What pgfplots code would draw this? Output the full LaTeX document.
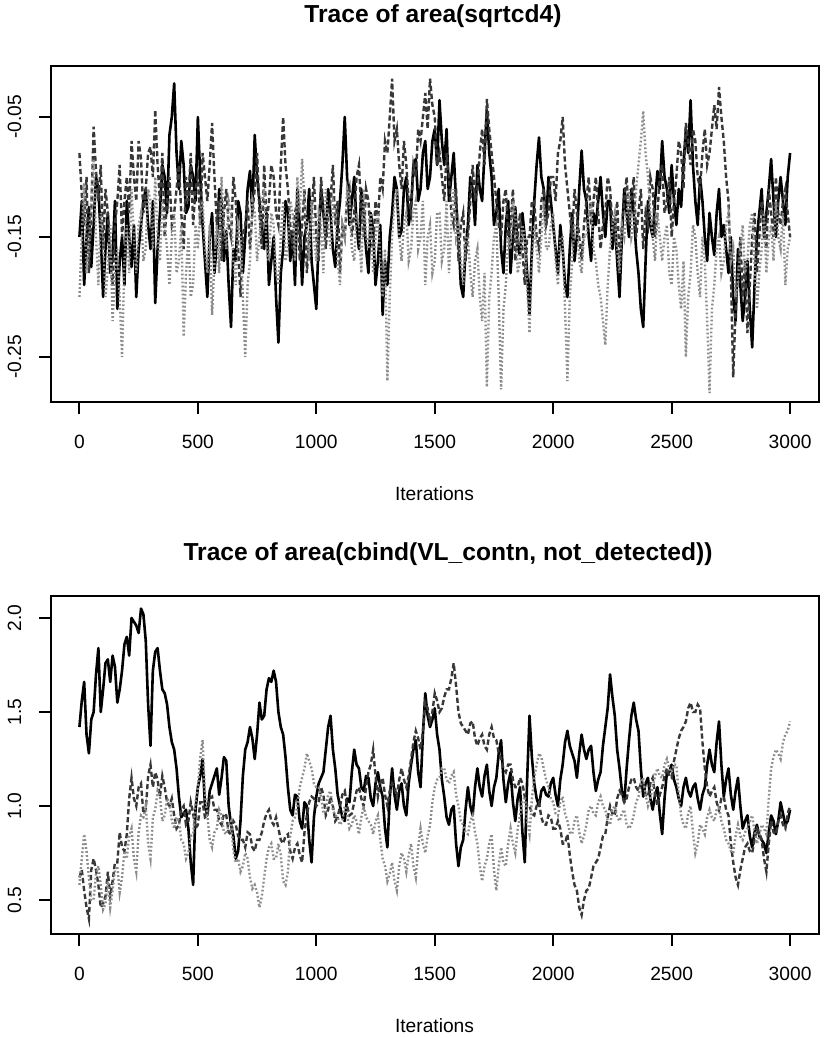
\documentclass[border=0pt]{standalone}
\usepackage{fontspec}
\setmainfont{Liberation Sans}
\usepackage{pgfplots}
\usepackage{pgfplotstable}
\pgfplotsset{compat=1.18}

\pgfplotstableread{
it a b c
0 -0.150 -0.080 -0.200
10 -0.120 -0.115 -0.150
20 -0.190 -0.140 -0.105
30 -0.150 -0.100 -0.180
40 -0.125 -0.180 -0.160
50 -0.175 -0.130 -0.120
60 -0.140 -0.058 -0.085
70 -0.100 -0.095 -0.150
80 -0.110 -0.120 -0.190
90 -0.150 -0.090 -0.130
100 -0.200 -0.160 -0.150
110 -0.160 -0.110 -0.200
120 -0.130 -0.130 -0.175
130 -0.180 -0.170 -0.140
140 -0.165 -0.190 -0.220
150 -0.120 -0.140 -0.180
160 -0.210 -0.120 -0.160
170 -0.170 -0.090 -0.200
180 -0.150 -0.150 -0.250
190 -0.190 -0.120 -0.170
200 -0.120 -0.100 -0.140
210 -0.150 -0.130 -0.180
220 -0.175 -0.070 -0.110
230 -0.140 -0.100 -0.150
240 -0.200 -0.120 -0.180
250 -0.160 -0.070 -0.140
260 -0.140 -0.085 -0.130
270 -0.120 -0.130 -0.170
280 -0.110 -0.110 -0.160
290 -0.140 -0.080 -0.110
300 -0.160 -0.075 -0.120
310 -0.120 -0.100 -0.160
320 -0.205 -0.044 -0.100
330 -0.160 -0.090 -0.150
340 -0.130 -0.120 -0.170
350 -0.090 -0.080 -0.120
360 -0.100 -0.150 -0.140
370 -0.130 -0.120 -0.160
380 -0.065 -0.100 -0.190
390 -0.050 -0.140 -0.150
400 -0.022 -0.130 -0.130
410 -0.080 -0.110 -0.180
420 -0.110 -0.090 -0.170
430 -0.070 -0.130 -0.140
440 -0.090 -0.160 -0.233
450 -0.130 -0.100 -0.180
460 -0.125 -0.120 -0.150
470 -0.090 -0.080 -0.200
480 -0.100 -0.140 -0.190
490 -0.120 -0.110 -0.140
500 -0.050 -0.100 -0.160
510 -0.100 -0.140 -0.130
520 -0.140 -0.080 -0.120
530 -0.170 -0.100 -0.160
540 -0.200 -0.120 -0.180
550 -0.150 -0.090 -0.140
560 -0.130 -0.055 -0.215
570 -0.180 -0.100 -0.170
580 -0.155 -0.140 -0.140
590 -0.110 -0.120 -0.180
600 -0.120 -0.170 -0.100
610 -0.170 -0.130 -0.140
620 -0.145 -0.110 -0.160
630 -0.190 -0.140 -0.120
640 -0.225 -0.150 -0.130
650 -0.160 -0.100 -0.170
660 -0.170 -0.120 -0.190
670 -0.120 -0.160 -0.140
680 -0.130 -0.200 -0.150
690 -0.180 -0.150 -0.200
700 -0.150 -0.140 -0.250
710 -0.110 -0.120 -0.190
720 -0.095 -0.160 -0.170
730 -0.130 -0.130 -0.120
740 -0.065 -0.110 -0.130
750 -0.100 -0.080 -0.170
760 -0.120 -0.130 -0.150
770 -0.140 -0.160 -0.120
780 -0.160 -0.090 -0.110
790 -0.130 -0.140 -0.160
800 -0.190 -0.120 -0.170
810 -0.170 -0.090 -0.130
820 -0.150 -0.100 -0.140
830 -0.200 -0.130 -0.180
840 -0.238 -0.140 -0.190
850 -0.180 -0.090 -0.150
860 -0.160 -0.050 -0.120
870 -0.120 -0.090 -0.170
880 -0.130 -0.110 -0.160
890 -0.170 -0.140 -0.120
900 -0.145 -0.160 -0.130
910 -0.190 -0.130 -0.170
920 -0.110 -0.120 -0.100
930 -0.140 -0.170 -0.130
940 -0.190 -0.140 -0.085
950 -0.150 -0.110 -0.120
960 -0.140 -0.180 -0.140
970 -0.110 -0.150 -0.170
980 -0.170 -0.130 -0.120
990 -0.190 -0.100 -0.150
1000 -0.210 -0.150 -0.170
1010 -0.150 -0.170 -0.130
1020 -0.110 -0.100 -0.140
1030 -0.130 -0.130 -0.180
1040 -0.150 -0.160 -0.110
1050 -0.110 -0.130 -0.140
1060 -0.130 -0.120 -0.160
1070 -0.160 -0.090 -0.120
1080 -0.175 -0.140 -0.130
1090 -0.140 -0.120 -0.170
1100 -0.120 -0.180 -0.190
1110 -0.090 -0.140 -0.140
1120 -0.050 -0.150 -0.150
1130 -0.100 -0.120 -0.110
1140 -0.140 -0.110 -0.120
1150 -0.120 -0.150 -0.160
1160 -0.100 -0.130 -0.170
1170 -0.140 -0.100 -0.130
1180 -0.160 -0.090 -0.140
1190 -0.110 -0.130 -0.180
1200 -0.130 -0.150 -0.110
1210 -0.160 -0.110 -0.150
1220 -0.180 -0.120 -0.160
1230 -0.130 -0.150 -0.130
1240 -0.145 -0.160 -0.180
1250 -0.190 -0.120 -0.150
1260 -0.170 -0.140 -0.130
1270 -0.140 -0.100 -0.170
1280 -0.215 -0.110 -0.200
1290 -0.170 -0.070 -0.160
1300 -0.190 -0.080 -0.270
1310 -0.150 -0.050 -0.200
1320 -0.130 -0.018 -0.150
1330 -0.100 -0.070 -0.120
1340 -0.110 -0.060 -0.110
1350 -0.150 -0.090 -0.150
1360 -0.145 -0.110 -0.170
1370 -0.110 -0.070 -0.140
1380 -0.100 -0.090 -0.130
1390 -0.140 -0.120 -0.170
1400 -0.125 -0.130 -0.160
1410 -0.090 -0.090 -0.130
1420 -0.085 -0.100 -0.120
1430 -0.120 -0.060 -0.160
1440 -0.110 -0.070 -0.150
1450 -0.080 -0.050 -0.120
1460 -0.070 -0.030 -0.190
1470 -0.110 -0.060 -0.150
1480 -0.100 -0.018 -0.140
1490 -0.070 -0.040 -0.180
1500 -0.060 -0.050 -0.170
1510 -0.090 -0.090 -0.130
1520 -0.036 -0.080 -0.130
1530 -0.070 -0.100 -0.170
1540 -0.090 -0.120 -0.160
1550 -0.060 -0.080 -0.120
1560 -0.120 -0.100 -0.180
1570 -0.100 -0.130 -0.140
1580 -0.080 -0.140 -0.110
1590 -0.120 -0.110 -0.150
1600 -0.150 -0.170 -0.140
1610 -0.190 -0.140 -0.170
1620 -0.200 -0.130 -0.190
1630 -0.160 -0.170 -0.150
1640 -0.140 -0.150 -0.150
1650 -0.100 -0.120 -0.180
1660 -0.110 -0.090 -0.200
1670 -0.140 -0.120 -0.170
1680 -0.090 -0.110 -0.160
1690 -0.110 -0.080 -0.200
1700 -0.120 -0.060 -0.220
1710 -0.080 -0.090 -0.180
1720 -0.044 -0.035 -0.275
1730 -0.080 -0.060 -0.200
1740 -0.100 -0.080 -0.180
1750 -0.140 -0.100 -0.150
1760 -0.130 -0.120 -0.140
1770 -0.110 -0.140 -0.200
1780 -0.160 -0.150 -0.277
1790 -0.180 -0.120 -0.210
1800 -0.140 -0.110 -0.190
1810 -0.120 -0.150 -0.150
1820 -0.180 -0.140 -0.160
1830 -0.150 -0.110 -0.120
1840 -0.125 -0.170 -0.130
1850 -0.160 -0.150 -0.180
1860 -0.165 -0.130 -0.170
1870 -0.130 -0.160 -0.140
1880 -0.150 -0.190 -0.150
1890 -0.180 -0.150 -0.190
1900 -0.214 -0.150 -0.230
1910 -0.160 -0.120 -0.170
1920 -0.120 -0.120 -0.140
1930 -0.090 -0.150 -0.160
1940 -0.067 -0.160 -0.180
1950 -0.100 -0.120 -0.150
1960 -0.110 -0.110 -0.120
1970 -0.140 -0.140 -0.160
1980 -0.100 -0.130 -0.160
1990 -0.120 -0.100 -0.140
2000 -0.140 -0.100 -0.130
2010 -0.160 -0.120 -0.170
2020 -0.180 -0.080 -0.190
2030 -0.140 -0.070 -0.150
2040 -0.160 -0.050 -0.150
2050 -0.190 -0.090 -0.210
2060 -0.200 -0.110 -0.270
2070 -0.160 -0.130 -0.200
2080 -0.130 -0.150 -0.170
2090 -0.170 -0.110 -0.140
2100 -0.150 -0.130 -0.140
2110 -0.110 -0.150 -0.170
2120 -0.078 -0.170 -0.180
2130 -0.110 -0.140 -0.150
2140 -0.120 -0.120 -0.150
2150 -0.150 -0.100 -0.130
2160 -0.170 -0.140 -0.120
2170 -0.130 -0.120 -0.160
2180 -0.140 -0.100 -0.170
2190 -0.120 -0.130 -0.190
2200 -0.100 -0.160 -0.200
2210 -0.130 -0.140 -0.220
2220 -0.150 -0.130 -0.240
2230 -0.120 -0.100 -0.190
2240 -0.120 -0.110 -0.160
2250 -0.160 -0.140 -0.140
2260 -0.135 -0.150 -0.130
2270 -0.170 -0.120 -0.160
2280 -0.200 -0.170 -0.180
2290 -0.150 -0.140 -0.140
2300 -0.110 -0.120 -0.150
2310 -0.130 -0.100 -0.130
2320 -0.150 -0.140 -0.110
2330 -0.110 -0.120 -0.150
2340 -0.130 -0.100 -0.140
2350 -0.160 -0.150 -0.110
2360 -0.180 -0.130 -0.090
2370 -0.210 -0.110 -0.070
2380 -0.225 -0.160 -0.045
2390 -0.170 -0.130 -0.080
2400 -0.120 -0.140 -0.100
2410 -0.140 -0.100 -0.130
2420 -0.150 -0.110 -0.150
2430 -0.120 -0.150 -0.170
2440 -0.095 -0.130 -0.130
2450 -0.110 -0.100 -0.150
2460 -0.070 -0.090 -0.170
2470 -0.100 -0.130 -0.150
2480 -0.110 -0.120 -0.140
2490 -0.130 -0.100 -0.180
2500 -0.090 -0.150 -0.190
2510 -0.120 -0.120 -0.150
2520 -0.140 -0.100 -0.160
2530 -0.110 -0.070 -0.190
2540 -0.125 -0.080 -0.210
2550 -0.090 -0.110 -0.170
2560 -0.060 -0.055 -0.250
2570 -0.080 -0.070 -0.200
2580 -0.036 -0.090 -0.180
2590 -0.090 -0.060 -0.140
2600 -0.120 -0.070 -0.150
2610 -0.140 -0.100 -0.180
2620 -0.100 -0.110 -0.200
2630 -0.120 -0.080 -0.150
2640 -0.150 -0.060 -0.170
2650 -0.170 -0.090 -0.220
2660 -0.130 -0.080 -0.280
2670 -0.150 -0.060 -0.210
2680 -0.165 -0.040 -0.190
2690 -0.130 -0.060 -0.160
2700 -0.110 -0.025 -0.150
2710 -0.150 -0.050 -0.180
2720 -0.140 -0.070 -0.170
2730 -0.160 -0.100 -0.140
2740 -0.180 -0.120 -0.130
2750 -0.150 -0.180 -0.170
2760 -0.200 -0.267 -0.160
2770 -0.220 -0.210 -0.200
2780 -0.160 -0.180 -0.190
2790 -0.190 -0.150 -0.160
2800 -0.220 -0.200 -0.140
2810 -0.200 -0.170 -0.180
2820 -0.170 -0.230 -0.170
2830 -0.210 -0.190 -0.140
2840 -0.242 -0.150 -0.130
2850 -0.190 -0.130 -0.170
2860 -0.150 -0.180 -0.210
2870 -0.130 -0.150 -0.180
2880 -0.110 -0.120 -0.160
2890 -0.150 -0.140 -0.130
2900 -0.130 -0.160 -0.180
2910 -0.110 -0.110 -0.150
2920 -0.085 -0.130 -0.140
2930 -0.120 -0.150 -0.170
2940 -0.150 -0.100 -0.120
2950 -0.120 -0.130 -0.150
2960 -0.100 -0.140 -0.160
2970 -0.120 -0.120 -0.130
2980 -0.140 -0.110 -0.190
2990 -0.100 -0.130 -0.160
3000 -0.080 -0.150 -0.150
}\toptab

\pgfplotstableread{
it a b c
0 1.42 0.62 0.58
10 1.56 0.66 0.72
20 1.66 0.55 0.85
30 1.38 0.46 0.76
40 1.28 0.40 0.62
50 1.46 0.66 0.50
60 1.50 0.72 0.50
70 1.70 0.66 0.64
80 1.84 0.58 0.68
90 1.50 0.46 0.58
100 1.62 0.48 0.45
110 1.76 0.52 0.48
120 1.78 0.65 0.60
130 1.66 0.52 0.46
140 1.80 0.60 0.55
150 1.74 0.70 0.66
160 1.55 0.70 0.68
170 1.62 0.86 0.54
180 1.72 0.78 0.62
190 1.86 0.76 0.76
200 1.90 0.85 0.72
210 1.80 1.04 0.84
220 2.00 1.15 0.88
230 1.98 1.04 0.72
240 1.96 1.00 0.65
250 1.92 1.10 0.86
260 2.05 1.12 0.95
270 2.02 0.96 0.94
280 1.88 0.98 1.00
290 1.54 1.16 0.80
300 1.32 1.22 0.72
310 1.72 1.10 0.94
320 1.82 1.18 0.98
330 1.84 1.14 1.08
340 1.72 1.05 1.05
350 1.62 1.16 0.92
360 1.60 1.10 0.95
370 1.54 1.02 1.04
380 1.42 1.00 1.02
390 1.34 1.04 0.92
400 1.30 0.95 0.88
410 1.20 0.88 0.94
420 1.05 0.90 0.92
430 0.94 0.98 0.82
440 0.96 1.00 0.80
450 0.98 0.90 0.72
460 0.88 0.92 0.75
470 0.70 1.02 0.84
480 0.58 0.96 0.85
490 0.98 0.88 1.02
500 1.10 0.90 1.10
510 1.16 1.02 1.26
520 1.25 1.02 1.35
530 1.00 0.94 1.06
540 0.95 0.95 0.95
550 1.08 1.04 0.82
560 1.12 1.05 0.78
570 1.16 0.98 0.86
580 1.20 0.98 0.88
590 1.06 0.92 0.98
600 1.15 0.90 0.95
610 1.26 0.96 0.86
620 1.24 0.95 0.85
630 1.00 0.86 0.90
640 0.90 0.85 0.92
650 0.84 0.92 0.76
660 0.72 0.90 0.70
670 0.76 0.84 0.72
680 0.92 0.82 0.65
690 1.16 0.82 0.68
700 1.30 0.78 0.75
710 1.34 0.86 0.72
720 1.42 0.85 0.62
730 1.36 0.78 0.56
740 1.25 0.76 0.58
750 1.38 0.82 0.54
760 1.55 0.82 0.46
770 1.46 0.86 0.52
780 1.48 0.92 0.62
790 1.62 0.96 0.72
800 1.68 0.98 0.78
810 1.66 0.92 0.80
820 1.72 0.90 0.72
830 1.66 0.94 0.72
840 1.50 0.88 0.80
850 1.42 0.82 0.74
860 1.38 0.80 0.60
870 1.26 0.84 0.58
880 1.10 0.85 0.65
890 0.98 0.76 0.84
900 0.95 0.72 0.92
910 1.06 0.78 0.94
920 1.05 0.80 1.00
930 0.92 0.74 1.10
940 0.88 0.70 1.15
950 1.02 0.86 1.20
960 1.00 0.95 1.28
970 0.82 1.02 1.24
980 0.70 1.05 1.20
990 0.94 1.04 1.12
1000 1.05 1.00 1.10
1010 1.12 1.02 1.10
1020 1.15 1.10 1.05
1030 1.18 1.06 0.96
1040 1.30 0.95 0.98
1050 1.42 0.98 1.06
1060 1.48 1.05 1.08
1070 1.30 1.00 0.98
1080 1.20 0.92 0.95
1090 1.06 0.94 0.94
1100 1.00 1.00 0.90
1110 0.94 1.06 0.92
1120 0.92 1.08 1.00
1130 1.04 1.00 0.96
1140 1.02 0.95 0.88
1150 1.18 0.96 0.90
1160 1.30 1.02 0.95
1170 1.22 1.08 0.92
1180 1.20 1.10 0.85
1190 1.10 1.04 0.94
1200 1.08 1.00 1.00
1210 1.16 1.10 0.94
1220 1.15 1.18 0.92
1230 1.04 1.22 0.90
1240 1.00 1.30 0.85
1250 1.12 1.16 0.92
1260 1.18 1.05 0.95
1270 1.10 1.12 0.82
1280 1.05 1.15 0.72
1290 0.88 1.06 0.68
1300 0.78 1.00 0.60
1310 1.04 1.08 0.64
1320 1.20 1.12 0.70
1330 1.06 1.10 0.60
1340 0.98 1.05 0.55
1350 1.08 1.14 0.68
1360 1.12 1.20 0.75
1370 1.00 1.14 0.72
1380 0.95 1.10 0.65
1390 1.12 1.16 0.74
1400 1.22 1.25 0.80
1410 1.30 1.34 0.68
1420 1.35 1.40 0.62
1430 1.18 1.36 0.78
1440 1.10 1.30 0.88
1450 1.38 1.40 0.80
1460 1.60 1.55 0.75
1470 1.48 1.52 0.84
1480 1.42 1.45 0.90
1490 1.46 1.50 1.02
1500 1.52 1.60 1.10
1510 1.38 1.56 1.14
1520 1.30 1.50 1.15
1530 1.14 1.52 1.20
1540 1.05 1.58 1.20
1550 0.94 1.62 1.14
1560 0.90 1.62 1.12
1570 0.98 1.68 1.16
1580 1.00 1.76 1.18
1590 0.80 1.64 1.06
1600 0.68 1.50 1.00
1610 0.78 1.44 0.92
1620 0.82 1.42 0.90
1630 0.98 1.40 0.86
1640 1.10 1.38 0.85
1650 1.00 1.44 0.92
1660 0.95 1.45 0.95
1670 1.10 1.36 0.86
1680 1.20 1.32 0.80
1690 1.10 1.36 0.68
1700 1.05 1.38 0.60
1710 1.16 1.32 0.68
1720 1.22 1.30 0.72
1730 1.08 1.38 0.80
1740 1.00 1.42 0.85
1750 1.10 1.36 0.66
1760 1.15 1.35 0.55
1770 1.28 1.28 0.68
1780 1.35 1.25 0.78
1790 1.14 1.20 0.70
1800 1.02 1.18 0.68
1810 1.12 1.22 0.80
1820 1.18 1.22 0.88
1830 1.02 1.14 0.80
1840 0.92 1.10 0.75
1850 1.04 1.10 0.88
1860 1.10 1.15 0.95
1870 0.86 1.12 1.02
1880 0.70 1.05 1.05
1890 1.14 1.00 0.92
1900 1.48 1.00 0.85
1910 1.26 0.96 1.04
1920 1.12 0.95 1.15
1930 1.04 1.00 1.22
1940 1.00 1.02 1.28
1950 1.08 0.94 1.26
1960 1.10 0.90 1.20
1970 1.06 0.90 1.14
1980 1.05 0.95 1.10
1990 1.12 0.94 1.04
2000 1.15 0.88 1.02
2010 1.06 0.88 0.96
2020 1.00 0.92 0.95
2030 1.14 0.88 1.02
2040 1.22 0.80 1.05
2050 1.34 0.80 0.96
2060 1.40 0.85 0.92
2070 1.32 0.74 0.86
2080 1.28 0.65 0.85
2090 1.24 0.58 0.92
2100 1.15 0.55 0.95
2110 1.28 0.46 0.86
2120 1.38 0.42 0.80
2130 1.30 0.50 0.84
2140 1.25 0.55 0.90
2150 1.30 0.56 0.98
2160 1.32 0.62 1.00
2170 1.18 0.68 0.96
2180 1.08 0.70 0.95
2190 1.14 0.72 1.02
2200 1.18 0.78 1.05
2210 1.32 0.84 1.00
2220 1.42 0.85 0.98
2230 1.52 0.94 0.92
2240 1.70 1.00 0.90
2250 1.58 0.96 0.98
2260 1.48 0.95 1.00
2270 1.30 1.04 0.94
2280 1.20 1.08 0.92
2290 1.08 1.06 0.96
2300 1.02 1.02 0.98
2310 1.20 1.04 0.90
2320 1.35 1.10 0.88
2330 1.48 1.14 0.90
2340 1.55 1.15 0.95
2350 1.46 1.10 1.02
2360 1.40 1.08 1.05
2370 1.20 1.12 1.12
2380 1.05 1.12 1.15
2390 1.12 1.06 1.06
2400 1.15 1.05 1.00
2410 1.04 1.12 1.04
2420 0.98 1.15 1.10
2430 1.06 1.06 1.16
2440 1.10 1.00 1.20
2450 0.96 1.06 1.16
2460 0.85 1.10 1.15
2470 1.04 1.16 1.22
2480 1.18 1.20 1.25
2490 1.18 1.16 1.20
2500 1.22 1.15 1.18
2510 1.14 1.24 1.22
2520 1.10 1.30 1.22
2530 1.04 1.36 1.06
2540 1.00 1.40 0.95
2550 1.10 1.42 0.90
2560 1.15 1.45 0.88
2570 1.08 1.52 0.96
2580 1.05 1.55 1.00
2590 1.10 1.50 0.86
2600 1.12 1.50 0.75
2610 1.04 1.54 0.80
2620 0.98 1.52 0.90
2630 1.06 1.34 0.88
2640 1.10 1.20 0.85
2650 1.22 1.10 0.94
2660 1.30 1.05 0.98
2670 1.22 1.08 0.94
2680 1.18 1.10 0.92
2690 1.34 1.02 0.98
2700 1.45 0.98 1.00
2710 1.22 1.04 0.92
2720 1.05 1.05 0.88
2730 1.14 0.98 0.82
2740 1.20 0.95 0.80
2750 1.06 0.80 0.76
2760 0.98 0.70 0.75
2770 1.08 0.62 0.84
2780 1.15 0.58 0.90
2790 1.00 0.66 0.84
2800 0.88 0.72 0.82
2810 0.92 0.78 0.86
2820 0.95 0.80 0.88
2830 0.84 0.76 0.92
2840 0.78 0.75 0.95
2850 0.86 0.82 0.86
2860 0.90 0.88 0.80
2870 0.84 0.86 0.84
2880 0.82 0.82 0.90
2890 0.80 0.72 0.88
2900 0.75 0.65 0.85
2910 0.86 0.80 1.04
2920 0.95 0.92 1.20
2930 0.92 0.86 1.26
2940 0.85 0.85 1.30
2950 0.92 0.92 1.28
2960 1.02 0.95 1.25
2970 0.96 0.90 1.34
2980 0.90 0.88 1.38
2990 0.92 0.96 1.40
3000 0.98 1.00 1.45
}\bottab

\pgfplotsset{
  tr/.style={
    scale only axis,
    width=383.75pt,
    xmin=-120, xmax=3120,
    xtick={0,500,1000,1500,2000,2500,3000},
    xticklabels={0,500,1000,1500,2000,2500,3000},
    tick pos=left,
    tick align=outside,
    major tick length=6pt,
    axis line style={line width=1pt},
    major tick style={line width=1pt, black},
    tick label style={font=\fontsize{9.6}{11}\selectfont},
    xticklabel style={anchor=base, inner sep=0pt},
    yticklabel style={rotate=90, anchor=south, inner sep=0pt},
    xticklabel shift=17pt,
    yticklabel shift=8.65pt,
  },
  c1/.style={black, line width=1.3pt, line join=round},
  c2/.style={black!78, line width=1.2pt, dash pattern=on 2.6pt off 1.4pt},
  c3/.style={black!45, line width=1.2pt, dash pattern=on 0.9pt off 1.1pt},
}

\begin{document}
\begin{tikzpicture}
\path[use as bounding box] (0pt,0pt) rectangle (412.5pt,-519pt);

\begin{axis}[tr, at={(25.5pt,-33pt)}, anchor=north west, height=168pt,
  ymin=-0.2875, ymax=-0.0075,
  ytick={-0.25,-0.15,-0.05}, yticklabels={-0.25,-0.15,-0.05}]
\addplot[c1] table[x=it,y=a]{\toptab};
\addplot[c2] table[x=it,y=b]{\toptab};
\addplot[c3] table[x=it,y=c]{\toptab};
\end{axis}

\begin{axis}[tr, at={(25.5pt,-298pt)}, anchor=north west, height=169pt,
  ymin=0.319, ymax=2.117,
  ytick={0.5,1.0,1.5,2.0}, yticklabels={0.5,1.0,1.5,2.0}]
\addplot[c1] table[x=it,y=a]{\bottab};
\addplot[c2] table[x=it,y=b]{\bottab};
\addplot[c3] table[x=it,y=c]{\bottab};
\end{axis}

\node[anchor=base, inner sep=0pt, font=\fontsize{12.3}{14}\selectfont\bfseries] at (216.5pt,-11.5pt) {Trace of area(sqrtcd4)};
\node[anchor=base, inner sep=0pt, font=\fontsize{12.3}{14}\selectfont\bfseries] at (224pt,-280pt) {Trace of area(cbind(VL\_contn, not\_detected))};
\node[anchor=base, inner sep=0pt, font=\fontsize{9.6}{11}\selectfont] at (217.25pt,-250pt) {Iterations};
\node[anchor=base, inner sep=0pt, font=\fontsize{9.6}{11}\selectfont] at (217.25pt,-516pt) {Iterations};
\end{tikzpicture}
\end{document}
